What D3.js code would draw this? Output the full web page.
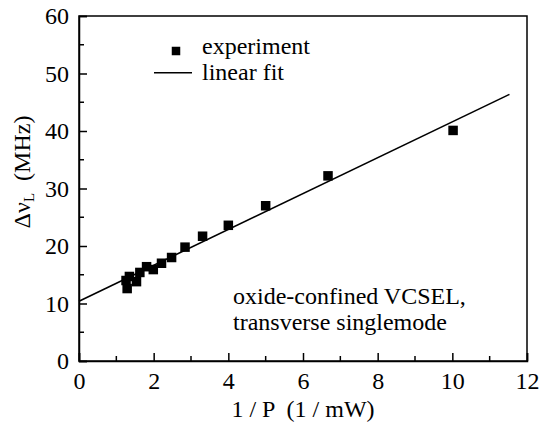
<!DOCTYPE html>
<html>
<head>
<meta charset="utf-8">
<script src="https://cdn.jsdelivr.net/npm/d3@7"></script>
</head>
<body style="margin:0">
<svg id="chart" width="539" height="424" font-family="Liberation Serif"></svg>
<script>
// Linewidth vs. inverse output power
const invPower = [1.26, 1.29, 1.35, 1.54, 1.63, 1.81, 1.99, 2.21, 2.48, 2.84, 3.31, 4.0, 5.0, 6.67, 10.02];
const linewidth = [14.0, 12.6, 14.7, 13.8, 15.4, 16.4, 15.9, 17.0, 18.0, 19.8, 21.7, 23.6, 27.0, 32.2, 40.1];

// Linear fit: Δν = a + b / P
const fitIntercept = 10.4;
const fitSlope = 3.12;
const fitRange = [0, 11.53];

const xTicks = [0, 2, 4, 6, 8, 10, 12];
const yTicks = [0, 10, 20, 30, 40, 50, 60];
const xMinor = [1, 3, 5, 7, 9, 11];
const yMinor = [5, 15, 25, 35, 45, 55];

const svg = d3.select("#chart");
const plot = { left: 79, right: 527, top: 16, bottom: 361 };
const textFont = "Liberation Serif";
const fontSize = 24;

const x = d3.scaleLinear().domain([0, 12]).range([plot.left, plot.right]);
const y = d3.scaleLinear().domain([0, 60]).range([plot.bottom, plot.top]);

// frame
svg.append("rect")
  .attr("x", plot.left).attr("y", plot.top)
  .attr("width", plot.right - plot.left).attr("height", plot.bottom - plot.top)
  .attr("fill", "none").attr("stroke", "#000").attr("stroke-width", 1.5);

// x axis (inward ticks)
const xAxis = svg.append("g").attr("transform", `translate(0,${plot.bottom})`)
  .call(d3.axisBottom(x).tickValues(xTicks).tickSize(-8).tickPadding(11).tickFormat(d3.format("d")));
xAxis.append("g").selectAll("line").data(xMinor).join("line")
  .attr("x1", d => x(d)).attr("x2", d => x(d)).attr("y1", 0).attr("y2", -5)
  .attr("stroke", "#000").attr("stroke-width", 1.5);

// y axis (inward ticks)
const yAxis = svg.append("g").attr("transform", `translate(${plot.left},0)`)
  .call(d3.axisLeft(y).tickValues(yTicks).tickSize(-8).tickPadding(10).tickFormat(d3.format("d")));
yAxis.append("g").selectAll("line").data(yMinor).join("line")
  .attr("y1", d => y(d)).attr("y2", d => y(d)).attr("x1", 0).attr("x2", 5)
  .attr("stroke", "#000").attr("stroke-width", 1.5);

[xAxis, yAxis].forEach(g => {
  g.attr("font-family", textFont).attr("font-size", fontSize);
  g.select(".domain").attr("stroke-width", 1.5);
  g.selectAll(".tick line").attr("stroke-width", 1.5);
  g.selectAll("text")
    .attr("font-family", textFont)
    .style("font-family", `"${textFont}"`)
    .attr("font-size", fontSize).attr("fill", "#000");
});

// fit line
svg.append("line")
  .attr("x1", x(fitRange[0])).attr("y1", y(fitIntercept + fitSlope * fitRange[0]))
  .attr("x2", x(fitRange[1])).attr("y2", y(fitIntercept + fitSlope * fitRange[1]))
  .attr("stroke", "#000").attr("stroke-width", 1.6);

// measured points
const sq = 9.5;
svg.append("g").selectAll("rect").data(invPower.map((v, i) => [v, linewidth[i]])).join("rect")
  .attr("x", d => x(d[0]) - sq / 2).attr("y", d => y(d[1]) - sq / 2)
  .attr("width", sq).attr("height", sq).attr("fill", "#000");

function label(xp, yp, str) {
  return svg.append("text").attr("x", xp).attr("y", yp)
    .attr("font-family", textFont)
    .style("font-family", `"${textFont}"`)
    .attr("font-size", fontSize).attr("fill", "#000")
    .style("white-space", "pre")
    .text(str);
}

// legend
svg.append("rect").attr("x", 176 - 4.25).attr("y", 51 - 4.25).attr("width", 8.5).attr("height", 8.5).attr("fill", "#000");
label(202, 54, "experiment");
svg.append("line").attr("x1", 154).attr("x2", 192).attr("y1", 72.7).attr("y2", 72.7)
  .attr("stroke", "#000").attr("stroke-width", 1.6);
label(202, 80, "linear fit");

// annotation
label(233, 304, "oxide-confined VCSEL,");
label(233, 330, "transverse singlemode");

// axis titles
label((plot.left + plot.right) / 2, 417, "1 / P  (1 / mW)").attr("text-anchor", "middle");

const yt = svg.append("text").attr("transform", "translate(30,172) rotate(-90)")
  .attr("text-anchor", "middle")
  .attr("font-family", textFont)
  .style("font-family", `"${textFont}"`)
  .style("white-space", "pre")
  .attr("font-size", fontSize).attr("fill", "#000");
yt.append("tspan").text("Δν");
yt.append("tspan").attr("font-size", 15).attr("dy", 4).text("L");
yt.append("tspan").attr("dy", -4).text("  (MHz)");
</script>
</body>
</html>
